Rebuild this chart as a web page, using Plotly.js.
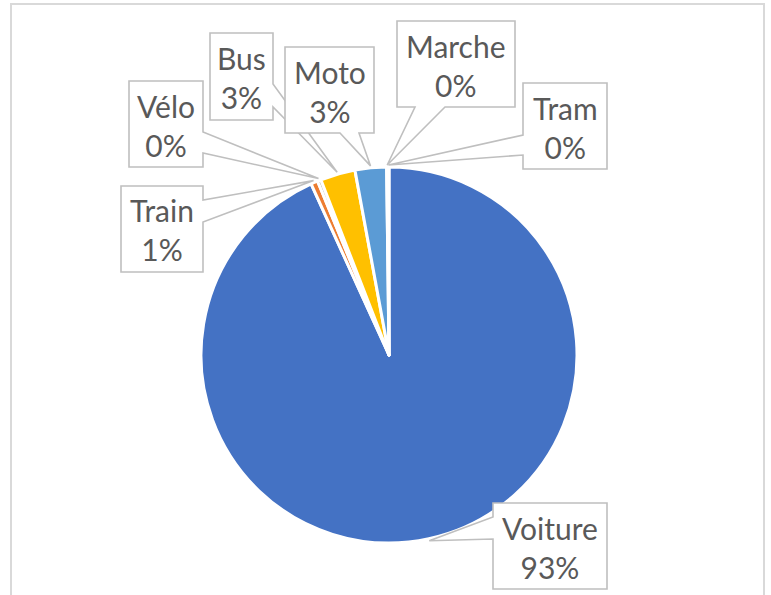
<!DOCTYPE html>
<html>
<head>
<meta charset="utf-8">
<script src="https://cdn.plot.ly/plotly-3.0.1.min.js"></script>
<style>html,body{margin:0;padding:0;background:#fff;}#chart{width:771px;height:595px;}</style>
</head>
<body>
<div id="chart"></div>
<script>
// ---- data ----
const categories = ["Voiture", "Train", "Vélo", "Bus", "Moto", "Marche", "Tram"];
const shares = [93.2, 0.6, 0.3, 3.0, 2.7, 0.1, 0.1];
const colors = ["#4472C4", "#ED7D31", "#A5A5A5", "#FFC000", "#5B9BD5", "#70AD47", "#264478"];

// ---- label box layout (pixels): box [x0,y0,x1,y1], side of the pointer, pointer base ----
const boxes = {
  "Train":   {box: [121, 186, 203, 272], side: "r", base: [200, 222]},
  "Vélo":    {box: [129, 81, 203, 167],  side: "r", base: [132, 153]},
  "Bus":     {box: [210, 33, 273, 120],  side: "r", base: [84, 107]},
  "Moto":    {box: [285, 47, 374, 133],  side: "b", base: [340, 359]},
  "Marche":  {box: [397, 21, 515, 107],  side: "b", base: [415, 445]},
  "Tram":    {box: [523, 83, 607, 169],  side: "l", base: [135, 155]},
  "Voiture": {box: [493, 503, 607, 589], side: "l", base: [517, 539]}
};
const drawOrder = ["Train", "Vélo", "Bus", "Moto", "Marche", "Tram", "Voiture"];

const W = 771, H = 595;
const cx = 389, cy = 355, R = 188;
const px = x => x / W;
const py = y => 1 - y / H;

const total = shares.reduce((a, b) => a + b, 0);
const tips = {};
let cum = 0;
shares.forEach((v, i) => {
  const mid = (cum + v / 2) / total * 2 * Math.PI;
  cum += v;
  tips[categories[i]] = [cx + (R + 2) * Math.sin(mid), cy - (R + 2) * Math.cos(mid)];
});

function calloutPath(name) {
  const b = boxes[name], [x0, y0, x1, y1] = b.box, t = tips[name];
  let pts = [[x0, y0], [x1, y0]];
  if (b.side === "r") pts.push([x1, b.base[0]], t, [x1, b.base[1]]);
  pts.push([x1, y1]);
  if (b.side === "b") pts.push([b.base[1], y1], t, [b.base[0], y1]);
  pts.push([x0, y1]);
  if (b.side === "l") pts.push([x0, b.base[1]], t, [x0, b.base[0]]);
  return "M" + pts.map(p => px(p[0]).toFixed(5) + "," + py(p[1]).toFixed(5)).join(" L") + " Z";
}

const shapes = [{
  type: "rect", xref: "paper", yref: "paper",
  x0: px(11), x1: px(764), y0: py(4), y1: py(620),
  line: {color: "#D9D9D9", width: 2}, fillcolor: "rgba(0,0,0,0)", layer: "below"
}];
const annotations = [];
drawOrder.forEach(name => {
  shapes.push({
    type: "path", xref: "paper", yref: "paper", path: calloutPath(name),
    line: {color: "#BFBFBF", width: 1.6}, fillcolor: "#FFFFFF", layer: "above"
  });
  const i = categories.indexOf(name);
  const b = boxes[name].box;
  annotations.push({
    xref: "paper", yref: "paper",
    x: px((b[0] + b[2]) / 2), y: py((b[1] + b[3]) / 2 + 1),
    xanchor: "center", yanchor: "middle", showarrow: false, align: "center",
    text: name + "<br>" + Math.round(shares[i] / total * 100) + "%",
    font: {family: "Lato, Carlito, sans-serif", size: 30, color: "#595959"}
  });
});

const trace = {
  type: "pie",
  labels: categories,
  values: shares,
  sort: false,
  direction: "clockwise",
  rotation: 0,
  marker: {colors: colors, line: {color: "#FFFFFF", width: 3}},
  textinfo: "none",
  hoverinfo: "skip",
  showlegend: false,
  domain: {x: [px(cx - R), px(cx + R)], y: [py(cy + R), py(cy - R)]}
};

Plotly.newPlot("chart", [trace], {
  width: W, height: H,
  margin: {l: 0, r: 0, t: 0, b: 0},
  paper_bgcolor: "#FFFFFF",
  showlegend: false,
  shapes: shapes,
  annotations: annotations
}, {displayModeBar: false, staticPlot: true});
</script>
</body>
</html>
